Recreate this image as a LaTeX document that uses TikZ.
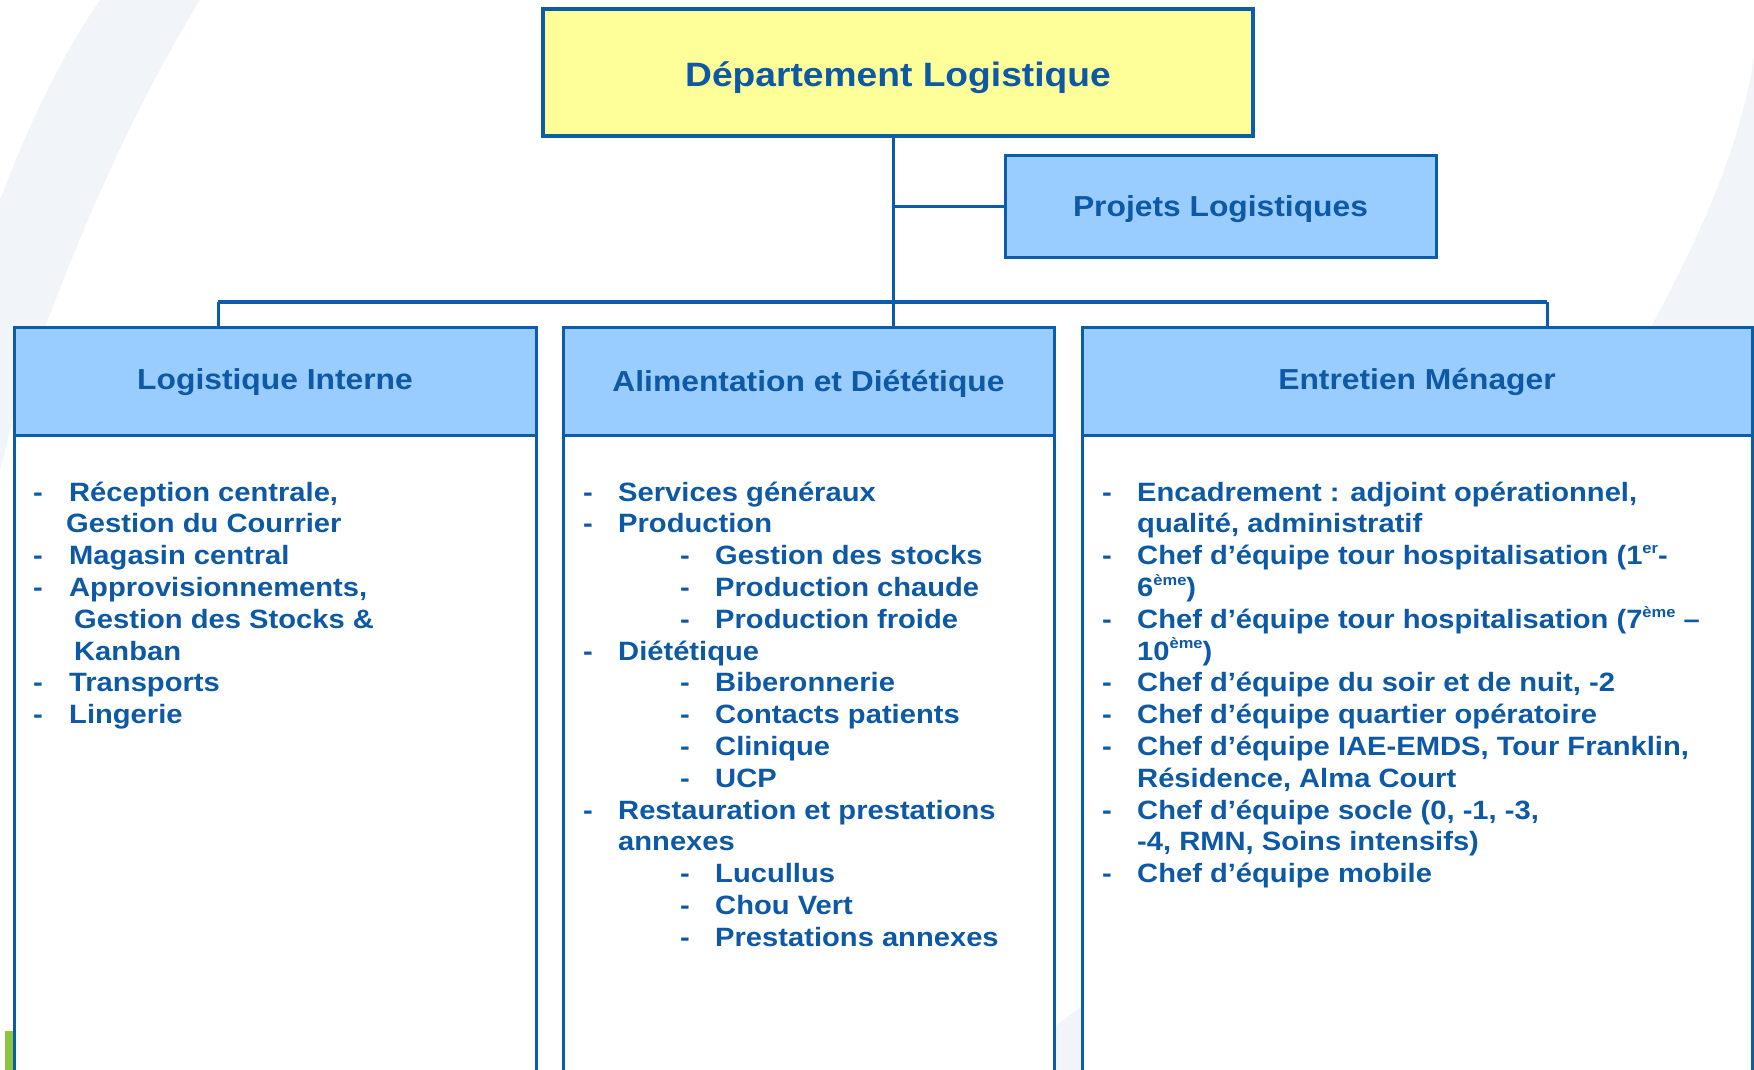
\documentclass[tikz,border=0pt]{standalone}
\usepackage{fontspec}
\setmainfont{Liberation Sans}[FakeStretch=1.1]
\definecolor{bordc}{HTML}{0B5DAA}
\definecolor{txtc}{HTML}{0D59A6}
\definecolor{hdrfill}{HTML}{99CCFF}
\definecolor{topfill}{HTML}{FFFF99}
\definecolor{bandc}{HTML}{F1F5FA}
\definecolor{greenc}{HTML}{8CC63F}
\newcommand\supr[1]{\raisebox{0.42em}{\fontsize{15}{15}\selectfont #1}}
\newcommand\lowered[2]{\raisebox{-#1pt}[0pt][0pt]{#2}}
\tikzset{
  topbox/.style={draw=bordc, line width=4.5pt, fill=topfill, minimum width=710pt, minimum height=127pt, inner sep=0pt,
    font=\fontsize{33.8}{38}\selectfont\bfseries, text=txtc},
  projbox/.style={draw=bordc, line width=3pt, fill=hdrfill, minimum width=431pt, minimum height=101pt, inner sep=0pt,
    font=\fontsize{28.9}{32}\selectfont\bfseries, text=txtc},
  hdr/.style={draw=bordc, line width=3pt, fill=hdrfill, minimum height=108pt, inner sep=0pt,
    font=\fontsize{28.9}{32}\selectfont\bfseries, text=txtc},
  body/.style={draw=bordc, line width=3pt, fill=white, minimum height=640pt, inner sep=0pt},
  itm/.style={anchor=base west, inner sep=0pt, font=\fontsize{26.5}{30}\selectfont\bfseries, text=txtc},
  conn/.style={draw=bordc, line width=3pt},
  bar/.style={draw=bordc, line width=4.5pt},
  declare function={ly(\k)=501+31.8*(\k-1);}
}
\begin{document}
\begin{tikzpicture}[x=1pt,y=-1pt]
\useasboundingbox (0,0) rectangle (1754,1070);
\clip (0,0) rectangle (1754,1070);
\fill[white] (0,0) rectangle (1754,1070);
% background swooshes
\fill[bandc] (100,0) -- (200,0) .. controls (120,130) and (55,290) .. (13,420) -- (0,470) -- (0,200) .. controls (30,120) and (65,50) .. (100,0) -- cycle;
\fill[bandc] (1754,55) .. controls (1720,330) and (1300,880) .. (990,1070) -- (1754,1070) -- cycle;
\fill[greenc] (5,1031) rectangle (13,1070);

% top boxes
\node[topbox] (dept) at (898,72.5) {\lowered{14.5}{Département Logistique}};
\node[projbox] (proj) at (1220.5,206.5) {\lowered{9.8}{Projets Logistiques}};

% column bodies and headers
\node[body, minimum width=522pt] (bL) at (275,755) {};
\node[body, minimum width=491pt] (bM) at (808.5,755) {};
\node[body, minimum width=670pt] (bR) at (1417,755) {};
\node[hdr, minimum width=522pt] (hL) at (275,381) {\lowered{8.3}{Logistique Interne}};
\node[hdr, minimum width=491pt] (hM) at (808.5,381) {\lowered{10.3}{Alimentation et Diététique}};
\node[hdr, minimum width=670pt] (hR) at (1417,381) {\lowered{8.3}{Entretien Ménager}};

% connectors
\coordinate (j) at (893,302);
\coordinate (bl) at (218,302);
\coordinate (br) at (1547,302);
\draw[conn] (dept.south -| j) -- (j |- hM.north);
\draw[conn] (j |- proj.west) -- (proj.west);
\draw[bar] (bl) -- (br);
\draw[conn] (bl) -- (bl |- hL.north);
\draw[conn] (br) -- (br |- hR.north);

% left column
\node[itm] (L1d) at (33,{ly(1)}) {-};
\node[itm] (L1) at (69,{ly(1)}) {Réception centrale,};
\node[itm] (L2) at (66,{ly(2)}) {Gestion du Courrier};
\node[itm] (L3d) at (33,{ly(3)}) {-};
\node[itm] (L3) at (69,{ly(3)}) {Magasin central};
\node[itm] (L4d) at (33,{ly(4)}) {-};
\node[itm] (L4) at (69,{ly(4)}) {Approvisionnements,};
\node[itm] (L5) at (74,{ly(5)}) {Gestion des Stocks \&};
\node[itm] (L6) at (74,{ly(6)}) {Kanban};
\node[itm] (L7d) at (33,{ly(7)}) {-};
\node[itm] (L7) at (69,{ly(7)}) {Transports};
\node[itm] (L8d) at (33,{ly(8)}) {-};
\node[itm] (L8) at (69,{ly(8)}) {Lingerie};

% middle column
\node[itm] (M1d) at (583,{ly(1)}) {-};
\node[itm] (M1) at (618,{ly(1)}) {Services généraux};
\node[itm] (M2d) at (583,{ly(2)}) {-};
\node[itm] (M2) at (618,{ly(2)}) {Production};
\node[itm] (M3d) at (680,{ly(3)}) {-};
\node[itm] (M3) at (715,{ly(3)}) {Gestion des stocks};
\node[itm] (M4d) at (680,{ly(4)}) {-};
\node[itm] (M4) at (715,{ly(4)}) {Production chaude};
\node[itm] (M5d) at (680,{ly(5)}) {-};
\node[itm] (M5) at (715,{ly(5)}) {Production froide};
\node[itm] (M6d) at (583,{ly(6)}) {-};
\node[itm] (M6) at (618,{ly(6)}) {Diététique};
\node[itm] (M7d) at (680,{ly(7)}) {-};
\node[itm] (M7) at (715,{ly(7)}) {Biberonnerie};
\node[itm] (M8d) at (680,{ly(8)}) {-};
\node[itm] (M8) at (715,{ly(8)}) {Contacts patients};
\node[itm] (M9d) at (680,{ly(9)}) {-};
\node[itm] (M9) at (715,{ly(9)}) {Clinique};
\node[itm] (M10d) at (680,{ly(10)}) {-};
\node[itm] (M10) at (715,{ly(10)}) {UCP};
\node[itm] (M11d) at (583,{ly(11)}) {-};
\node[itm] (M11) at (618,{ly(11)}) {Restauration et prestations};
\node[itm] (M12) at (618,{ly(12)}) {annexes};
\node[itm] (M13d) at (680,{ly(13)}) {-};
\node[itm] (M13) at (715,{ly(13)}) {Lucullus};
\node[itm] (M14d) at (680,{ly(14)}) {-};
\node[itm] (M14) at (715,{ly(14)}) {Chou Vert};
\node[itm] (M15d) at (680,{ly(15)}) {-};
\node[itm] (M15) at (715,{ly(15)}) {Prestations annexes};

% right column
\node[itm] (R1d) at (1102,{ly(1)}) {-};
\node[itm] (R1) at (1137,{ly(1)}) {Encadrement : adjoint opérationnel,};
\node[itm] (R2) at (1137,{ly(2)}) {qualité, administratif};
\node[itm] (R3d) at (1102,{ly(3)}) {-};
\node[itm] (R3) at (1137,{ly(3)}) {Chef d’équipe tour hospitalisation (1\supr{er}-};
\node[itm] (R4) at (1137,{ly(4)}) {6\supr{ème})};
\node[itm] (R5d) at (1102,{ly(5)}) {-};
\node[itm] (R5) at (1137,{ly(5)}) {Chef d’équipe tour hospitalisation (7\supr{ème} –};
\node[itm] (R6) at (1137,{ly(6)}) {10\supr{ème})};
\node[itm] (R7d) at (1102,{ly(7)}) {-};
\node[itm] (R7) at (1137,{ly(7)}) {Chef d’équipe du soir et de nuit, -2};
\node[itm] (R8d) at (1102,{ly(8)}) {-};
\node[itm] (R8) at (1137,{ly(8)}) {Chef d’équipe quartier opératoire};
\node[itm] (R9d) at (1102,{ly(9)}) {-};
\node[itm] (R9) at (1137,{ly(9)}) {Chef d’équipe IAE-EMDS, Tour Franklin,};
\node[itm] (R10) at (1137,{ly(10)}) {Résidence, Alma Court};
\node[itm] (R11d) at (1102,{ly(11)}) {-};
\node[itm] (R11) at (1137,{ly(11)}) {Chef d’équipe socle (0, -1, -3,};
\node[itm] (R12) at (1137,{ly(12)}) {-4, RMN, Soins intensifs)};
\node[itm] (R13d) at (1102,{ly(13)}) {-};
\node[itm] (R13) at (1137,{ly(13)}) {Chef d’équipe mobile};
\end{tikzpicture}
\end{document}
